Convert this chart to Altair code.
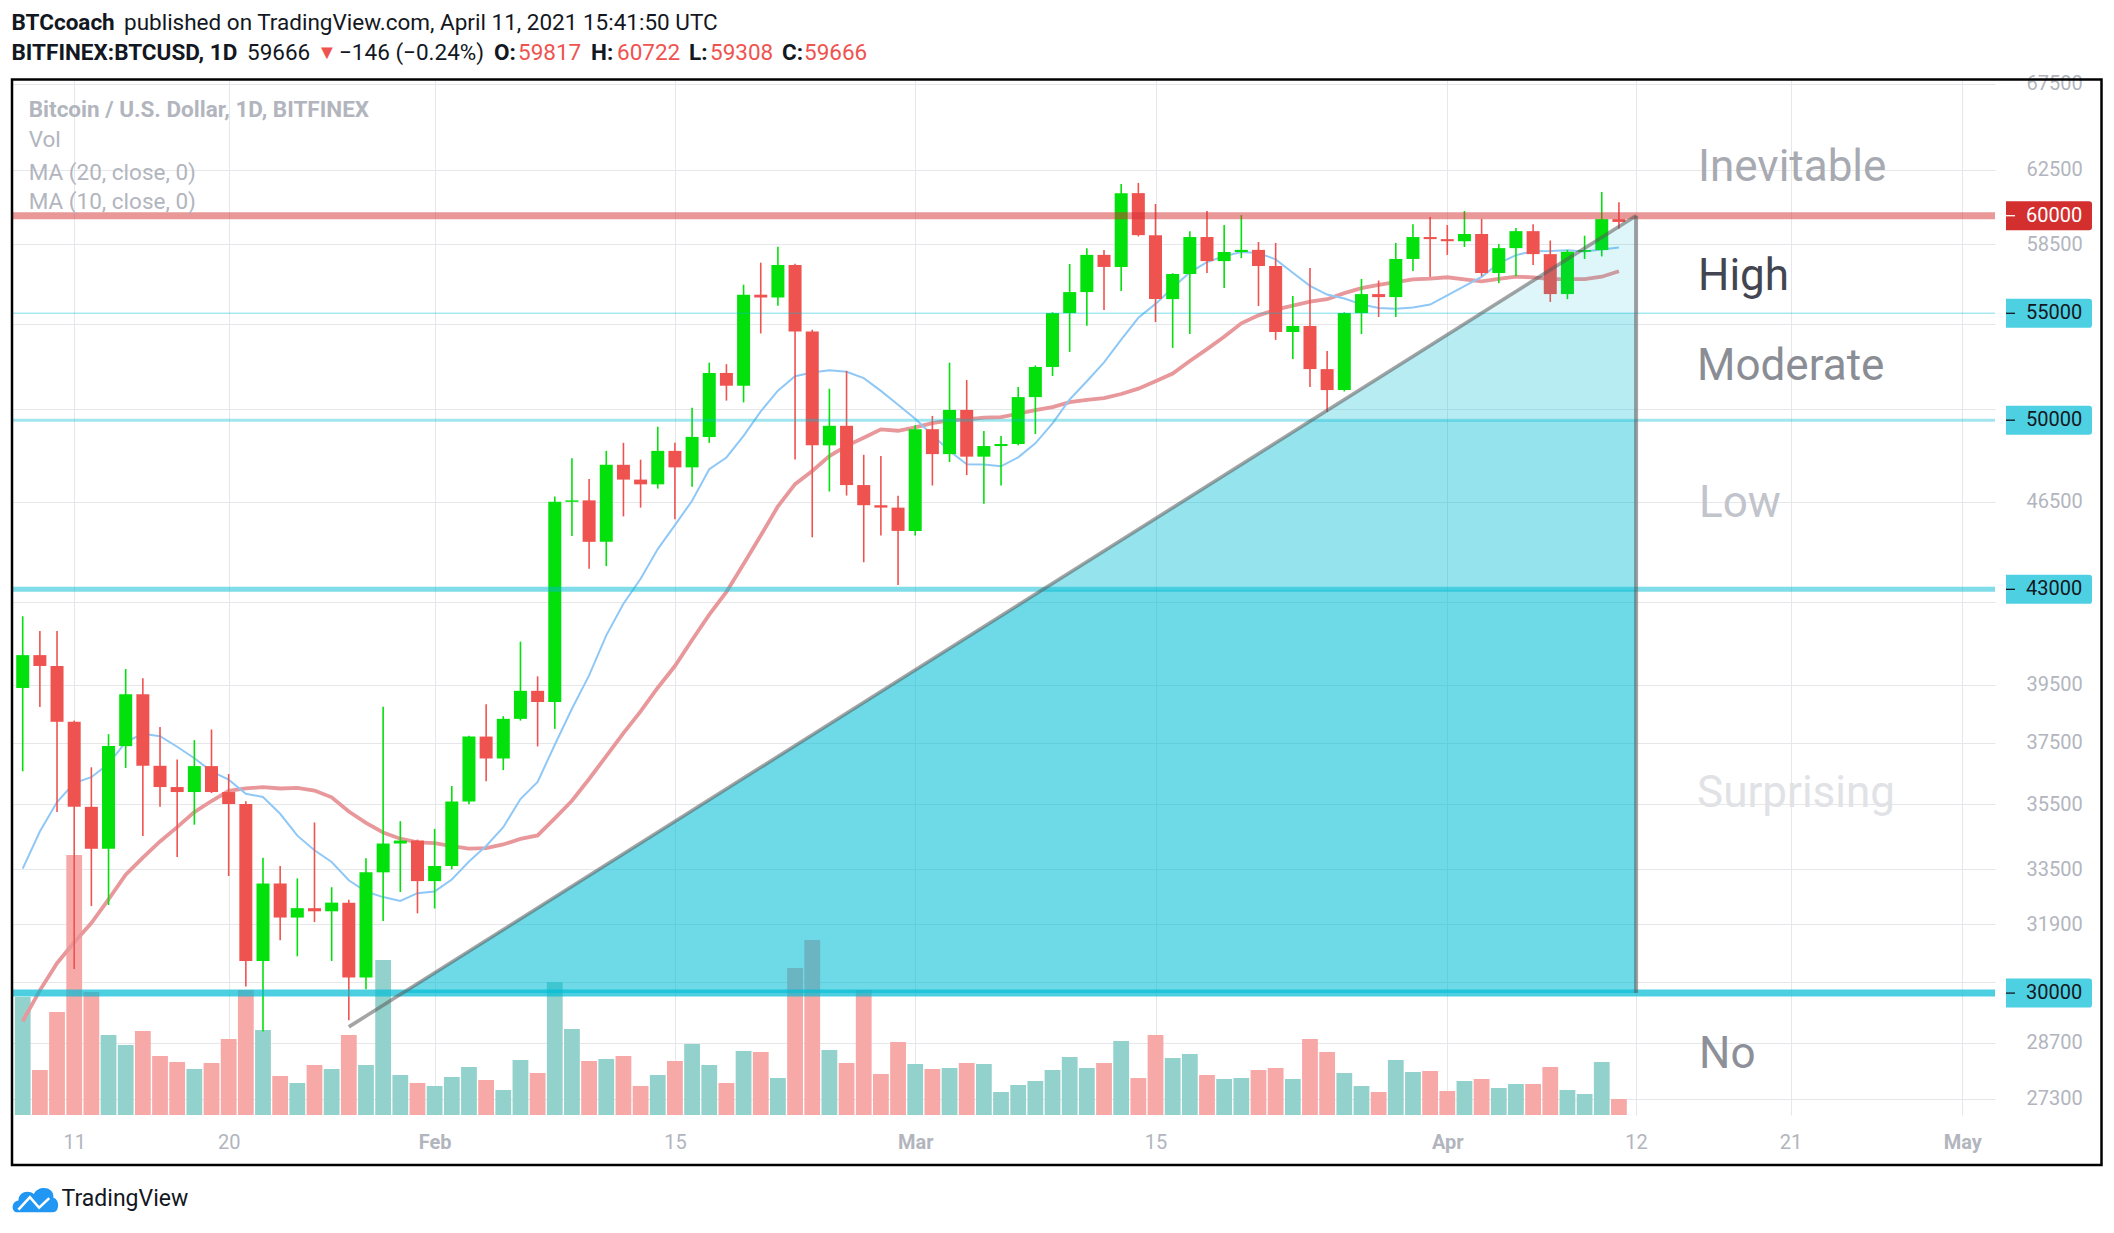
import altair as alt
import numpy as np
import pandas as pd

# ---------------- data ----------------
dates = pd.date_range("2021-01-08", "2021-04-11", freq="D").strftime("%Y-%m-%d").tolist()

open_ = [39380, 40550, 40160, 38210, 35420, 34120, 37390, 39160, 36740, 36050, 35890, 36730, 35890,
         35510, 30870, 33080, 32090, 32360, 32270, 32520, 30420, 33410, 34280, 34370, 33150,
         33600, 35590, 37710, 36980, 38310, 39280, 38890, 46490, 46550, 44860, 48050, 47420, 47220,
         48650, 47940, 49260, 52150, 51560, 55920, 55780, 57420, 54120, 48890, 49750, 47190, 46350, 46250,
         45300, 49600, 48510, 50460, 48400, 48860, 48950, 51040, 52430, 55010, 56050, 57940, 57320,
         61220, 58970, 55700, 56960, 58870, 57620, 58090, 58200, 57370, 54090, 54380, 52330, 51360,
         55010, 55950, 55800, 57730, 58870,
         58760, 58650, 59030, 57010, 58290, 59180, 57980, 55950, 58100, 58190, 59817]
high = [41980, 41430, 41430, 38250, 36690, 37790, 40050, 39720, 38030, 36950, 37590, 37950, 36470,
        35600, 33850, 33600, 33230, 34930, 32970, 32600, 33830, 38730, 34970, 34400, 34730,
        36080, 37740, 38810, 38400, 41040, 39790, 46710, 48330, 47450, 48650, 49000, 48270, 49710,
        49000, 50560, 52630, 52560, 56420, 57540, 58360, 57480, 54200, 51420, 52250, 48480, 48430, 46740,
        49780, 50190, 52630, 51820, 49520, 49300, 51500, 52500, 55050, 57470, 58290, 58190, 61720,
        61780, 60630, 57000, 59180, 60250, 59500, 60030, 58610, 58560, 55860, 57270, 53180, 55050,
        56710, 56630, 58560, 59550, 59930,
        59500, 60250, 59830, 58500, 59340, 59550, 58690, 58200, 58940, 61280, 60722]
low = [36560, 38720, 35260, 30650, 32420, 32450, 36670, 34510, 35420, 33870, 34860, 35860, 33300,
       30180, 28990, 31450, 31000, 31960, 30870, 29280, 30100, 31990, 32830, 32210, 32350,
       33500, 35500, 36240, 36600, 38250, 37380, 37970, 45090, 43800, 43900, 45890, 46250, 47040,
       45770, 47120, 49000, 50880, 50800, 54020, 55370, 48280, 45040, 46920, 46750, 44050, 45110, 43170,
       45110, 47170, 48170, 47610, 46410, 47170, 48900, 49390, 52010, 53140, 54390, 55160, 56100,
       58900, 54570, 53330, 53990, 57010, 56260, 57780, 55360, 53710, 52800, 51500, 50370, 51300,
       53990, 54820, 54820, 57110, 56810,
       57940, 58350, 56850, 56500, 56850, 57420, 55560, 55700, 57730, 57860, 59308]
close = [40550, 40160, 38210, 35420, 34120, 37390, 39160, 36740, 36050, 35890, 36730, 35890, 35510,
         30870, 33080, 32090, 32360, 32270, 32520, 30420, 33410, 34280, 34370, 33150, 33600,
         35590, 37710, 36980, 38310, 39280, 38890, 46490, 46550, 44860, 48050, 47420, 47220, 48650,
         47940, 49260, 52150, 51560, 55920, 55780, 57420, 54120, 48890, 49750, 47190, 46350, 46250, 45300,
         49600, 48510, 50460, 48400, 48860, 48950, 51040, 52430, 55010, 56050, 57940, 57320, 61220,
         58970, 55700, 56960, 58870, 57620, 58090, 58200, 57370, 54090, 54380, 52330, 51360, 55010,
         55950, 55800, 57730, 58870, 58760,
         58650, 59030, 57010, 58290, 59180, 57980, 55950, 58100, 58190, 59817, 59666]
# relative volume (no volume scale is shown in the picture)
volume = [118, 45, 103, 260, 123, 80, 70, 84, 59, 53, 46, 52, 76, 125, 85, 39, 32, 50, 46, 80, 50, 155, 40, 32, 29,
          38, 48, 35, 25, 55, 42, 133, 86, 54, 56, 59, 29, 40, 54, 71, 50, 32, 64, 63, 37, 147, 175, 65, 52, 125, 41, 73,
          51, 46, 47, 52, 51, 23, 30, 34, 45, 58, 47, 52, 74, 37, 80, 57, 61, 40, 36, 37, 45, 47, 36, 76, 63, 42, 29, 23,
          55, 43, 44,
          24, 34, 36, 27, 31, 31, 48, 25, 21, 53, 16]

# closes before the first visible candle, needed to start the moving averages
prior_dates = pd.date_range("2020-12-20", "2021-01-07", freq="D").strftime("%Y-%m-%d").tolist()
prior_close = [23830, 23480, 23820, 23250, 23730, 24710, 26440, 26270, 27040, 27360, 28890, 28990,
               29370, 32190, 33000, 31970, 33990, 36820, 39440]

level_prices = [60000, 55000, 50000, 43000, 30000]
band_edges = [30000, 43000, 50000, 55000, 60000]
trend_dates = ["2021-01-27", "2021-04-12"]
trend_prices = [29110, 60000]
ytick_values = [67500, 62500, 58500, 54500, 50500, 46500, 42500, 39500, 37500, 35500, 33500,
                31900, 30300, 28700, 27300]
# grid levels whose labels sit under the price tags
ytick_hidden = [54500, 50500, 42500, 30300]
xtick_dates = ["2021-01-11", "2021-01-20", "2021-02-01", "2021-02-15", "2021-03-01", "2021-03-15",
               "2021-04-01", "2021-04-12", "2021-04-21", "2021-05-01"]
zone_names = ["Inevitable", "High", "Moderate", "Low", "Surprising", "No"]

# ---------------- layout / style ----------------
W, H = 1984, 1036
FONT = "Roboto"
GRID = "#e6e7eb"
AXIS_TXT = "#b2b5be"
UP, DOWN = "#02e10b", "#ef5350"
CYAN = "#00bcd4"
DAY = 86400000


def ms(s):
    return int(pd.Timestamp(s).tz_localize("UTC").timestamp() * 1000)


x0 = ms("2021-01-11") - 3.391 * DAY
x1 = ms("2021-01-11") + 111.62 * DAY
xscale = alt.Scale(type="utc", domain=[x0, x1], nice=False)
yscale = alt.Scale(type="log", domain=[26910, 67778], nice=False)

hidden_test = " || ".join(f"datum.value == {v}" for v in ytick_hidden)

xaxis = alt.Axis(values=[ms(d) for d in xtick_dates],
                 labelExpr="utcdate(datum.value) == 1 ? utcFormat(datum.value, '%b') : utcFormat(datum.value, '%d')",
                 labelFontWeight={"condition": {"test": "utcdate(datum.value) == 1", "value": "bold"}, "value": "normal"},
                 grid=True, gridColor=GRID, gridWidth=1, ticks=False, tickSize=0, domain=False,
                 labelPadding=27, labelBaseline="middle", labelFont=FONT, labelFontSize=20,
                 labelColor=AXIS_TXT, labelFlush=False, labelOverlap=False, title=None)
yaxis = alt.Axis(orient="right", values=ytick_values,
                 labelExpr=f"({hidden_test}) ? '' : format(datum.value, 'd')",
                 grid=True, gridColor=GRID, gridWidth=1,
                 ticks=False, tickSize=0, domain=False, labelAlign="left", labelPadding=31,
                 labelFont=FONT, labelFontSize=20, labelColor=AXIS_TXT, labelOverlap=False,
                 labelFlush=False, title=None)

X = alt.X("date:T", scale=xscale, axis=xaxis)


def Y(field):
    return alt.Y(field, scale=yscale, axis=yaxis)


df = pd.DataFrame({"date": [ms(d) for d in dates], "open": open_, "high": high, "low": low,
                   "close": close, "volume": volume})
is_up = "datum.close >= datum.open"

vol = alt.Chart(df).mark_bar(size=15.8).encode(
    x=X,
    y=alt.Y("volume:Q", scale=alt.Scale(domain=[0, H], nice=False, zero=True), axis=None),
    color=alt.condition(is_up, alt.value("#93d2cc"), alt.value("#f7a9a8")),
)

# moving averages
n_prior = len(prior_dates)
ma_df = pd.DataFrame({"date": [ms(d) for d in prior_dates + dates], "close": prior_close + close,
                      "i": list(range(n_prior + len(dates)))})
ma_base = (alt.Chart(ma_df)
           .transform_window(ma20="mean(close)", frame=[-19, 0], sort=[alt.SortField("i")])
           .transform_window(ma10="mean(close)", frame=[-9, 0], sort=[alt.SortField("i")])
           .transform_filter(f"datum.i >= {n_prior}"))
ma20 = ma_base.mark_line(color="#e8979a", strokeWidth=3.8).encode(x=X, y=Y("ma20:Q"))
ma10 = ma_base.mark_line(color="#8fc8f6", strokeWidth=2).encode(x=X, y=Y("ma10:Q"))

wick = alt.Chart(df).mark_rule(strokeWidth=1.6).encode(
    x=X, y=Y("low:Q"), y2="high:Q",
    color=alt.condition(is_up, alt.value(UP), alt.value(DOWN)))
body = alt.Chart(df).mark_bar(size=13).encode(
    x=X, y=Y("open:Q"), y2="close:Q",
    color=alt.condition(is_up, alt.value(UP), alt.value(DOWN)))

# probability bands under the trend line
t0, t1 = ms(trend_dates[0]), ms(trend_dates[1])
l0, l1 = np.log(trend_prices[0]), np.log(trend_prices[1])


def cross(p):
    return t0 + (np.log(p) - l0) / (l1 - l0) * (t1 - t0)


band_alpha = [0.57, 0.42, 0.28, 0.13]
bands = []
for lo, hi, a in zip(band_edges[:-1], band_edges[1:], band_alpha):
    bdf = pd.DataFrame({"date": [cross(lo), min(cross(hi), t1), t1], "top": [lo, hi, hi], "base": [lo] * 3})
    bands.append(alt.Chart(bdf).mark_area(color=CYAN, opacity=a, interpolate="linear").encode(
        x=X, y=Y("top:Q"), y2="base:Q"))

level_style = {60000: ("#d32f2f", 0.5, 7), 55000: (CYAN, 0.35, 1.5), 50000: (CYAN, 0.37, 3),
               43000: (CYAN, 0.5, 5), 30000: (CYAN, 0.7, 7)}
levels = []
for p in level_prices:
    c, a, w = level_style[p]
    levels.append(alt.Chart(pd.DataFrame({"price": [p]})).mark_rule(color=c, opacity=a, strokeWidth=w)
                  .encode(y=Y("price:Q")))

tdf = pd.DataFrame({"date": [t0, t1], "price": trend_prices})
trend = alt.Chart(tdf).mark_line(color="#5a5a5a", opacity=0.55, strokeWidth=3.6).encode(x=X, y=Y("price:Q"))
vdf = pd.DataFrame({"date": [t1], "lo": [band_edges[0]], "hi": [trend_prices[1]]})
vline = alt.Chart(vdf).mark_rule(color="#5a5a5a", opacity=0.55, strokeWidth=4).encode(
    x=X, y=Y("lo:Q"), y2="hi:Q")

# price tags on the right axis
tag_df = pd.DataFrame({"price": level_prices, "label": [str(p) for p in level_prices]})
is60 = "datum.price == 60000"
tag_path = "M-1,-0.337 H0.93 Q1,-0.337 1,-0.27 V0.27 Q1,0.337 0.93,0.337 H-1 Z"
tags = alt.Chart(tag_df).mark_point(shape=tag_path, size=86 ** 2, filled=True, opacity=1, strokeWidth=0).encode(
    x=alt.value(2038), y=Y("price:Q"),
    color=alt.condition(is60, alt.value("#d32f2f"), alt.value("#4dd0e1")))
tag_tick = alt.Chart(tag_df).mark_point(shape="M-1,0 H1", size=81, filled=False, opacity=1, strokeWidth=1.3).encode(
    x=alt.value(1999.5), y=Y("price:Q"),
    color=alt.condition(is60, alt.value("#ffffff"), alt.value("#131722")))
tag_txt = alt.Chart(tag_df).mark_text(align="left", baseline="middle", font=FONT, fontSize=20).encode(
    x=alt.value(2015), y=Y("price:Q"), text="label:N",
    color=alt.condition(is60, alt.value("#ffffff"), alt.value("#131722")))


def label(text, x, y, size, color, weight="normal", font=FONT):
    return alt.Chart(pd.DataFrame({"t": [text]})).mark_text(
        align="left", baseline="middle", fontSize=size, font=font, fontWeight=weight, color=color
    ).encode(x=alt.value(x), y=alt.value(y), text="t:N")


zone_pos = [(1687, 89, "#a8aab2"), (1687, 198, "#434651"), (1686, 287.5, "#8b8d95"),
            (1688, 425, "#c2c4cb"), (1686, 715, "#e1e2e6"), (1688, 976, "#8e9099")]
zones = [label(n, x, y, 44, c) for n, (x, y, c) in zip(zone_names, zone_pos)]

legend = [
    label("Bitcoin / U.S. Dollar, 1D, BITFINEX", 17.7, 31, 22.5, AXIS_TXT, "bold"),
    label("Vol", 17.7, 61, 22.5, AXIS_TXT),
    label("MA (20, close, 0)", 17.7, 93.5, 22.5, AXIS_TXT),
    label("MA (10, close, 0)", 17.7, 123, 22.5, AXIS_TXT),
]

DARK = "#131722"
RED = "#ef5350"
HF = 22.5
header = [
    label("BTCcoach", 0.5, -56.3, HF, DARK, "bold"),
    label("published on TradingView.com, April 11, 2021 15:41:50 UTC", 113, -56.3, HF, DARK),
    label("BITFINEX:BTCUSD, 1D", 0.5, -25.7, HF, DARK, "bold"),
    label("59666", 236, -25.7, HF, DARK),
    label("▼", 306, -25.7, 20, RED),
    label("−146 (−0.24%)", 328, -25.7, HF, DARK),
    label("O:", 483, -25.7, HF, DARK, "bold"),
    label("59817", 507, -25.7, HF, RED),
    label("H:", 580, -25.7, HF, DARK, "bold"),
    label("60722", 606, -25.7, HF, RED),
    label("L:", 678, -25.7, HF, DARK, "bold"),
    label("59308", 699, -25.7, HF, RED),
    label("C:", 771, -25.7, HF, DARK, "bold"),
    label("59666", 793, -25.7, HF, RED),
]

one = pd.DataFrame({"k": [0]})
cloud_path = ("M-0.75,0.58 C-1.05,0.58 -1.05,0.1 -0.72,0.06 C-0.72,-0.3 -0.3,-0.42 -0.05,-0.22 "
              "C0.15,-0.62 0.85,-0.55 0.8,-0.05 C1.08,0.02 1.08,0.58 0.78,0.58 Z")
line_path = "M-0.72,0.46 L-0.22,-0.08 L0.18,0.38 L0.62,-0.04"
logo = [
    alt.Chart(one).mark_point(shape=cloud_path, size=46 ** 2, filled=True, color="#2196f3", opacity=1,
                              strokeWidth=0).encode(x=alt.value(24), y=alt.value(1120)),
    alt.Chart(one).mark_point(shape=line_path, size=46 ** 2, filled=False, color="#ffffff", opacity=1,
                              strokeWidth=2.6).encode(x=alt.value(24), y=alt.value(1120)),
    label("TradingView", 50.6, 1120, 23, DARK),
]

frame = alt.Chart(one).mark_rect(fillOpacity=0, stroke="#000000", strokeWidth=2.5).encode(
    x=alt.value(1), x2=alt.value(2090.5), y=alt.value(0.5), y2=alt.value(1086))

price_group = alt.layer(ma20, ma10, wick, body, *bands, *levels, trend, vline, *zones, *legend,
                        tags, tag_tick, tag_txt, *header, *logo, frame)

chart = (alt.layer(vol, price_group)
         .resolve_scale(y="independent")
         .properties(width=W, height=H, autosize=alt.AutoSizeParams(type="none"),
                     padding={"left": 3, "top": 71, "right": 109, "bottom": 104},
                     background="#ffffff")
         .configure_view(stroke="transparent"))

chart.save("out.html", embed_options={"renderer": "svg", "actions": False})
